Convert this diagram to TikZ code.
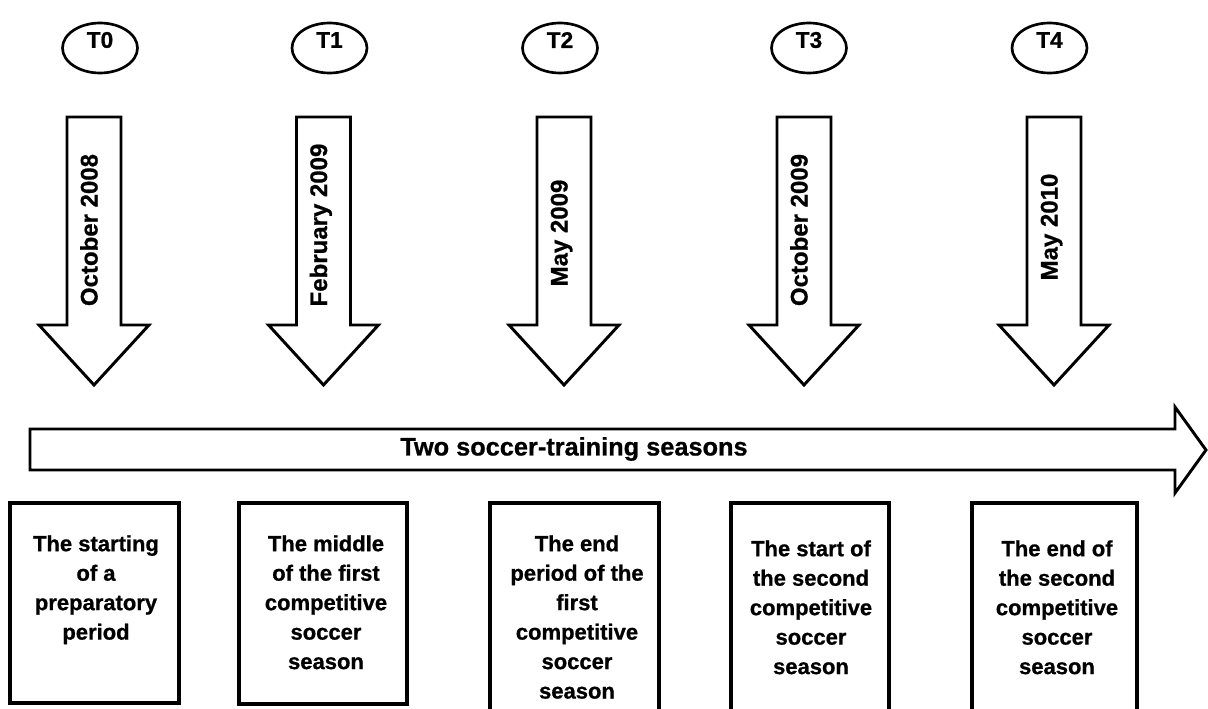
\documentclass[tikz,border=0pt]{standalone}
\usepackage{fontspec}
\setmainfont[BoldFeatures={FakeBold=0.8}]{Liberation Sans}
\begin{document}
\begin{tikzpicture}[x=0.75pt,y=-0.75pt,
  tltext/.style={font=\bfseries\fontsize{17}{19}\selectfont,inner sep=0pt},
  downarrow/.style={draw,line width=2.2pt,fill=white,line join=miter},
  datetext/.style={font=\bfseries\fontsize{18}{20}\selectfont,rotate=90,anchor=mid,inner sep=0pt},
  periodbox/.style={draw,line width=2.4pt},
  boxtext/.style={font=\bfseries\fontsize{16.5}{22.1}\selectfont,align=center,anchor=north,inner sep=0pt},
]
\useasboundingbox (0,0) rectangle (1208,709);
\clip (0,0) rectangle (1208,709);
\fill[white] (0,0) rectangle (1208,709);

% ellipses
\foreach \n/\cx in {0/100,1/329.5,2/560,3/809,4/1049.5}{
  \draw[line width=2pt] (\cx,48) ellipse [x radius=37.5, y radius=25];
  \node[tltext] (t\n) at (\cx,40) {T\n};
}

% down arrows
\foreach \cx in {94,323.5,564,804,1054}{
  \draw[downarrow] (\cx-27,117) -- (\cx+27,117) -- (\cx+27,325) -- (\cx+55,325)
     -- (\cx,385) -- (\cx-55,325) -- (\cx-27,325) -- cycle;
}
\node[datetext] (d0) at (94,230) {October 2008};
\node[datetext] (d1) at (323.5,225) {February 2009};
\node[datetext] (d2) at (564,233) {May 2009};
\node[datetext] (d3) at (804,230) {October 2009};
\node[datetext] (d4) at (1054,227) {May 2010};

% horizontal arrow
\draw[downarrow] (30,429) -- (1175,429) -- (1175,407) -- (1206,450) -- (1175,493)
   -- (1175,470) -- (30,470) -- cycle;
\node[font=\bfseries\fontsize{19}{21}\selectfont,inner sep=0pt] (season) at (574,449) {Two soccer-training seasons};

% boxes
\draw[periodbox] (10,503) rectangle (179,703);
\draw[periodbox] (239,503) rectangle (407,704);
\draw[periodbox] (490,730) -- (490,503) -- (659,503) -- (659,730);
\draw[periodbox] (731,730) -- (731,503) -- (889,503) -- (889,730);
\draw[periodbox] (972,730) -- (972,503) -- (1137,503) -- (1137,730);

\node[boxtext] (b0) at (96,535) {The starting\\of a\\preparatory\\period};
\node[boxtext] (b1) at (326,535) {The middle\\of the first\\competitive\\soccer\\season};
\node[boxtext] (b2) at (577,535) {The end\\period of the\\first\\competitive\\soccer\\season};
\node[boxtext] (b3) at (811,540) {The start of\\the second\\competitive\\soccer\\season};
\node[boxtext] (b4) at (1057,540) {The end of\\the second\\competitive\\soccer\\season};
\end{tikzpicture}
\end{document}
